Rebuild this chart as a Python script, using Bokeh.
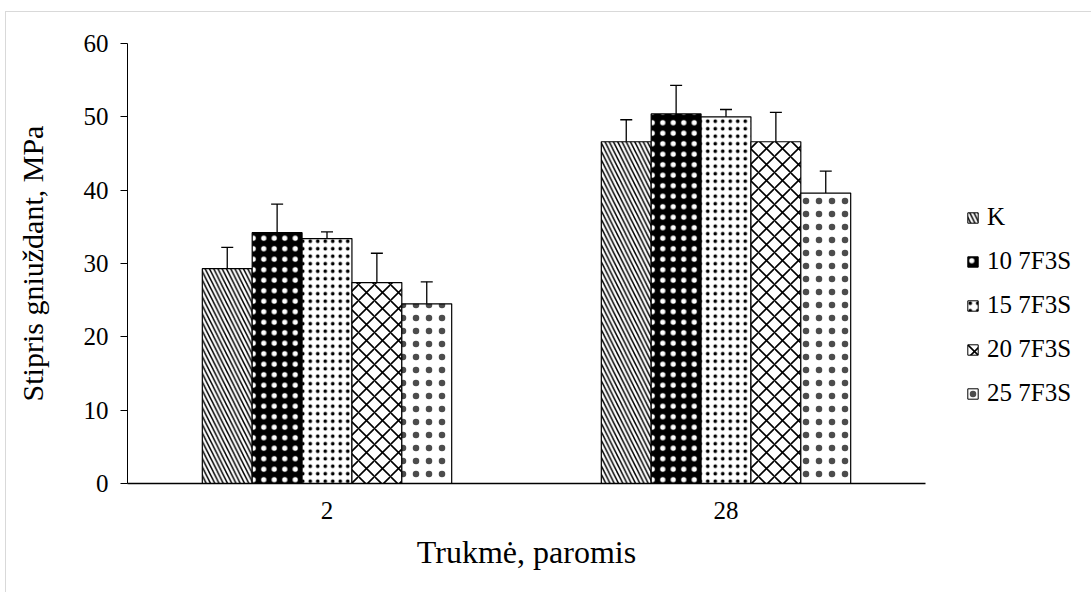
from bokeh.plotting import figure
from bokeh.layouts import row
from bokeh.models import (ColumnDataSource, FactorRange, Range1d, Legend, LegendItem,
                          Whisker, TeeHead, SingleIntervalTicker)
from bokeh.transform import dodge
from bokeh.embed import file_html
from bokeh.resources import INLINE

# ---- data ----
days = ["2", "28"]
series = ["K", "10 7F3S", "15 7F3S", "20 7F3S", "25 7F3S"]
val_K = [29.3, 46.6]
val_10 = [34.2, 50.4]
val_15 = [33.4, 50.0]
val_20 = [27.4, 46.6]
val_25 = [24.5, 39.6]
errp_K = [2.9, 3.0]
errp_10 = [3.9, 3.9]
errp_15 = [0.9, 1.0]
errp_20 = [4.0, 4.0]
errp_25 = [3.0, 3.0]
errm_K = [1.0, 1.0]
errm_10 = [3.9, 3.9]
errm_15 = [3.1, 3.0]
errm_20 = [2.1, 2.0]
errm_25 = [2.0, 2.0]

values = [val_K, val_10, val_15, val_20, val_25]
errp = [errp_K, errp_10, errp_15, errp_20, errp_25]
errm = [errm_K, errm_10, errm_15, errm_20, errm_25]

FONT = "Liberation Serif"

styles = [
    dict(fill_color="white", hatch_pattern="left_diagonal_line", hatch_color="black", hatch_scale=8.5, hatch_weight=1.5),
    dict(fill_color="black", hatch_pattern="dot", hatch_color="white", hatch_scale=10.5, hatch_weight=0.4),
    dict(fill_color="white", hatch_pattern="dot", hatch_color="black", hatch_scale=7.5, hatch_weight=0.6),
    dict(fill_color="white", hatch_pattern="diagonal_cross", hatch_color="black", hatch_scale=16, hatch_weight=1.6),
    dict(fill_color="white", hatch_pattern="dot", hatch_color="black", hatch_scale=13, hatch_weight=0.1, hatch_alpha=0.7),
]
offsets = [-0.25, -0.125, 0.0, 0.125, 0.25]
bw = 0.125

p = figure(x_range=FactorRange(factors=days, range_padding=0), y_range=Range1d(0, 60),
           width=930, height=580, output_backend="svg", toolbar_location=None,
           min_border_left=121, min_border_right=11, min_border_top=31, min_border_bottom=109)
p.outline_line_color = None
p.xgrid.grid_line_color = None
p.ygrid.grid_line_color = None

for name, v, ep, em, st, off in zip(series, values, errp, errm, styles, offsets):
    src = ColumnDataSource(dict(day=days, val=v,
                                hi=[a + b for a, b in zip(v, ep)],
                                lo=[a - b for a, b in zip(v, em)]))
    p.vbar(x=dodge("day", off, range=p.x_range), top="val", width=bw, source=src,
           line_color="black", line_width=1.2, **st)
    w = Whisker(base=dodge("day", off, range=p.x_range), upper="hi", lower="lo", source=src,
                line_color="black", line_width=1.3,
                upper_head=TeeHead(size=12, line_color="black", line_width=1.3),
                lower_head=TeeHead(size=12, line_color="black", line_width=1.3))
    p.add_layout(w)

# axes
p.yaxis.ticker = SingleIntervalTicker(interval=10)
p.yaxis.minor_tick_line_color = None
p.yaxis.major_tick_out = 7
p.yaxis.major_tick_in = 0
p.yaxis.major_label_standoff = 12
p.yaxis.axis_line_color = "black"
p.yaxis.major_tick_line_color = "black"
p.yaxis.axis_label = "Stipris gniuždant, MPa"
p.yaxis.axis_label_standoff = 32

p.xaxis.major_tick_line_color = None
p.xaxis.minor_tick_line_color = None
p.xaxis.axis_line_color = "black"
p.xaxis.axis_line_width = 1.5
p.xaxis.major_label_standoff = 12
p.xaxis.axis_label = "Trukmė, paromis"
p.xaxis.axis_label_standoff = 12

for ax in (p.xaxis[0], p.yaxis[0]):
    ax.major_label_text_font = FONT
    ax.major_label_text_font_size = "25px"
    ax.major_label_text_color = "black"
    ax.axis_label_text_font = FONT
    ax.axis_label_text_font_style = "normal"
    ax.axis_label_text_color = "black"
p.xaxis.axis_label_text_font_size = "32px"
p.yaxis.axis_label_text_font_size = "30px"

# legend panel (separate figure on the right); its swatch renderers sit outside the visible range
leg = figure(width=155, height=580, output_backend="svg", toolbar_location=None,
             x_range=Range1d(0, 1), y_range=Range1d(1, 2), min_border=0,
             x_axis_location=None, y_axis_location=None)
leg.outline_line_color = None
leg.xgrid.grid_line_color = None
leg.ygrid.grid_line_color = None
items = []
for name, st in zip(series, styles):
    r = leg.vbar(x=[50], bottom=[50], top=[51], width=0.1, line_color="black", line_width=1.0, **st)
    items.append(LegendItem(label=name, renderers=[r]))
legend = Legend(items=items, location=(30, 76), orientation="vertical",
                label_text_font=FONT, label_text_font_size="25px", label_text_color="black",
                glyph_width=13, glyph_height=13, label_standoff=8, spacing=16,
                padding=0, margin=0, border_line_alpha=0, background_fill_alpha=0)
leg.add_layout(legend, "center")

layout = row(p, leg, styles={"margin-left": "5px", "margin-top": "11px",
                             "border-left": "1px solid #d9d9d9", "border-top": "1px solid #d9d9d9"})

open("out.html", "w").write(file_html(layout, INLINE))
